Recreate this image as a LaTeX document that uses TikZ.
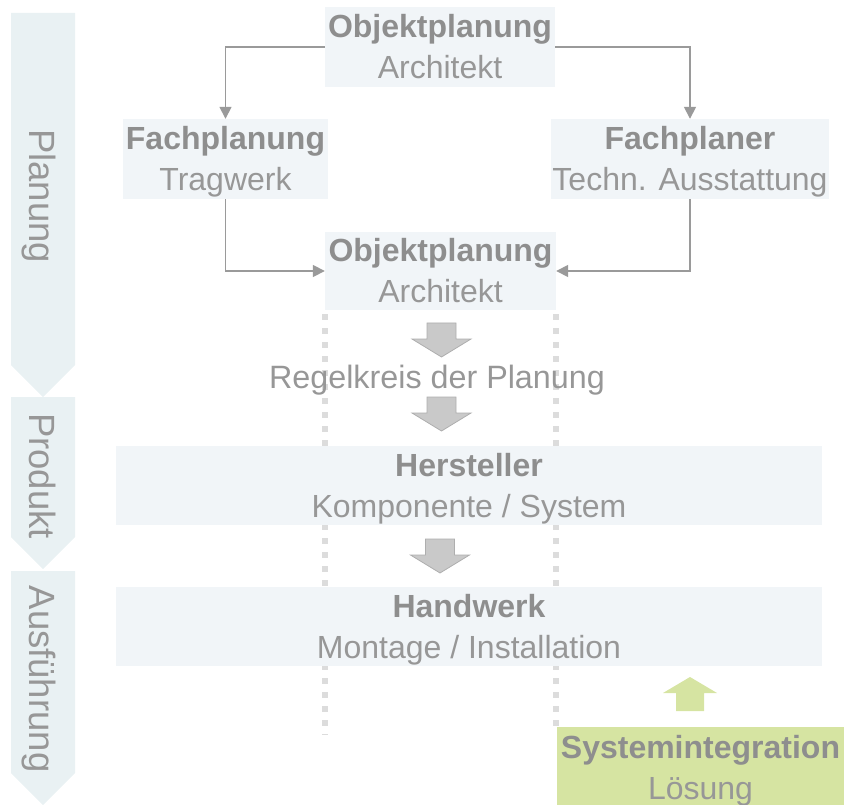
\documentclass[tikz,border=0pt]{standalone}
\usepackage{fontspec}
\setmainfont{Liberation Sans}
\usetikzlibrary{arrows.meta}
\definecolor{sidefill}{HTML}{E9F1F3}
\definecolor{boxfill}{HTML}{F1F5F8}
\definecolor{txtgray}{HTML}{979797}
\definecolor{boldgray}{HTML}{8E8E8E}
\definecolor{linegray}{HTML}{9A9A9A}
\definecolor{dotgray}{HTML}{DCDCDC}
\definecolor{blockfill}{HTML}{C9C9C9}
\definecolor{blockdraw}{HTML}{AEAEAE}
\definecolor{greenfill}{HTML}{D6E4A2}
\begin{document}
\begin{tikzpicture}[x=1pt,y=-1pt,
  box/.style={fill=boxfill,draw=none,inner sep=0pt,align=center,
    text=txtgray,font=\fontsize{32}{41}\selectfont,
    text height=68pt,text depth=4pt,minimum height=80pt},
  sidearrow/.style={fill=sidefill,draw=none},
  sidelabel/.style={rotate=-90,anchor=base,text=txtgray,inner sep=0pt,
    font=\fontsize{36.5}{40}\selectfont},
  conn/.style={draw=linegray,line width=1.6pt,-{Triangle[length=12pt,width=12pt]}},
  dotline/.style={draw=dotgray,line width=6pt,dash pattern=on 6pt off 8pt},
  block/.style={fill=blockfill,draw=blockdraw,line width=0.8pt},
  greenblock/.style={fill=greenfill,draw=none},
  downarrow/.pic={\path[block] (-14.5,0) -- (14.5,0) -- (14.5,16) -- (29.5,16)
      -- (0,34) -- (-29.5,16) -- (-14.5,16) -- cycle;},
  uparrow/.pic={\path[greenblock] (-14,0) -- (14,0) -- (14,-18) -- (27,-18)
      -- (0,-34) -- (-27,-18) -- (-14,-18) -- cycle;}
]
\path[use as bounding box] (0,0) rectangle (844,805);

% side phase arrows
\path[sidearrow] (11,13) -- (75,13) -- (75,365) -- (43,397) -- (11,365) -- cycle;
\path[sidearrow] (11,397) -- (75,397) -- (75,537) -- (43,569) -- (11,537) -- cycle;
\path[sidearrow] (11,571) -- (75,571) -- (75,773) -- (43,805) -- (11,773) -- cycle;
\node[sidelabel] (lplan) at (29,196) {Planung};
\node[sidelabel] (lprod) at (29,476) {Produkt};
\node[sidelabel] (laus) at (29,679) {Ausführung};

% planning boxes
\node[box,minimum width=230pt] (obj1) at (440,47)
  {{\bfseries\color{boldgray}Objektplanung}\\Architekt};
\node[box,minimum width=205pt] (fp) at (225.5,159)
  {{\bfseries\color{boldgray}Fachplanung}\\Tragwerk};
\node[box,minimum width=278pt] (fpl) at (690,159)
  {{\bfseries\color{boldgray}Fachplaner}\\Techn. Ausstattung};
\node[box,minimum width=231pt,minimum height=78pt] (obj2) at (440.5,271)
  {{\bfseries\color{boldgray}Objektplanung}\\Architekt};

\draw[conn] (obj1.west) -| (fp.north);
\draw[conn] (obj1.east) -| (fpl.north);
\draw[conn] (fp.south) |- (obj2.west);
\draw[conn] (fpl.south) |- (obj2.east);

% dotted guide lines
\path[dotline] (obj2.south west) ++(0,4) -- ++(0,421);
\path[dotline] (obj2.south east) ++(0,4) -- ++(0,412);

% regelkreis
\pic at (441.5,323) {downarrow};
\node[text=txtgray,inner sep=0pt,anchor=base,font=\fontsize{32.3}{40}\selectfont]
  (regel) at (437,388) {Regelkreis der Planung};
\pic at (441.5,397) {downarrow};

% product / execution boxes
\node[box,minimum width=706pt,minimum height=79pt] (herst) at (469,485.5)
  {{\bfseries\color{boldgray}Hersteller}\\Komponente / System};
\pic at (440,539) {downarrow};
\node[box,minimum width=706pt,minimum height=79pt] (hand) at (469,626.5)
  {{\bfseries\color{boldgray}Handwerk}\\Montage / Installation};

% system integration
\pic at (690,711) {uparrow};
\node[box,fill=greenfill,minimum width=287pt] (sys) at (700.5,767)
  {{\bfseries\color{boldgray}Systemintegration}\\Lösung};
\end{tikzpicture}
\end{document}
